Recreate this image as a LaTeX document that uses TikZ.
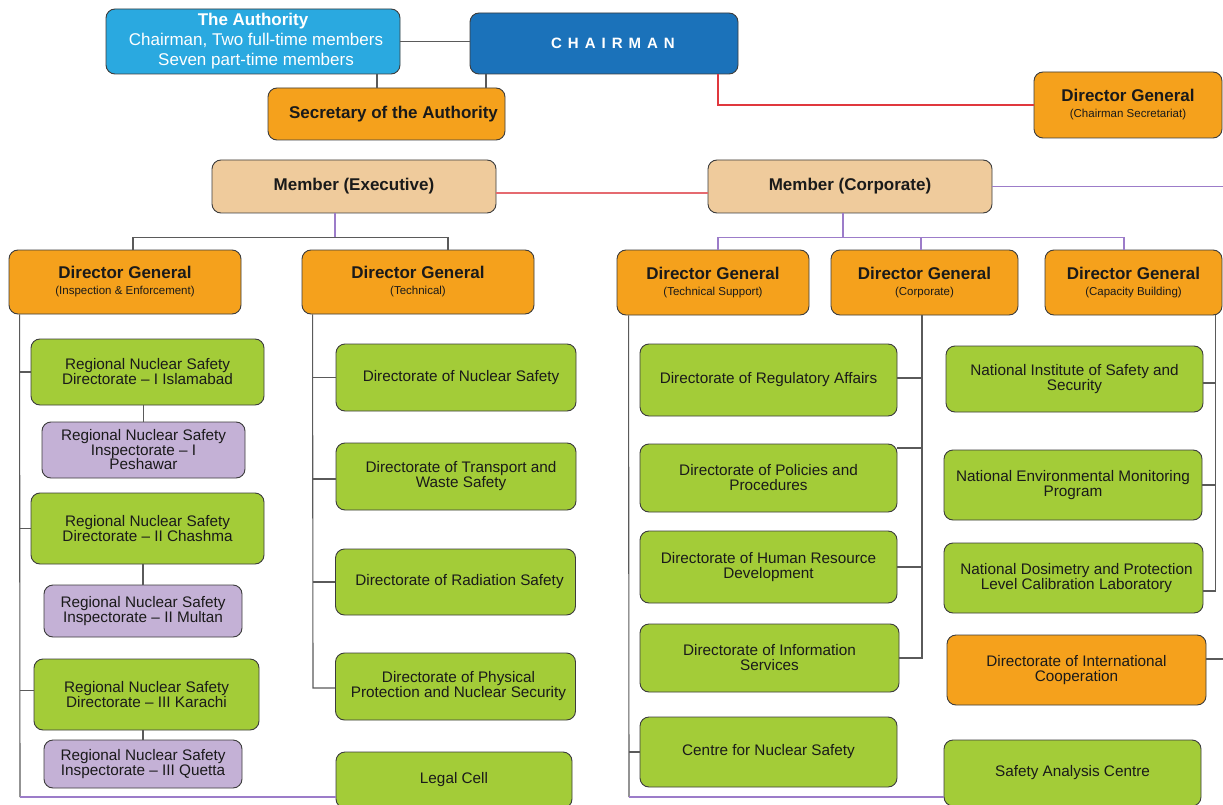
\documentclass[tikz,border=0pt]{standalone}
\usepackage{fontspec}
\setmainfont{Liberation Sans}
\usetikzlibrary{calc}
\newcommand\myfs[2]{\fontsize{#1}{#2}\selectfont}
\definecolor{authblue}{HTML}{2AA9E0}
\definecolor{chairblue}{HTML}{1B72BA}
\definecolor{org}{HTML}{F5A11C}
\definecolor{tan}{HTML}{EFCB9C}
\definecolor{grn}{HTML}{A3CC38}
\definecolor{lil}{HTML}{C4B1D6}
\definecolor{bordc}{HTML}{3C3C3C}
\definecolor{cgray}{HTML}{5A5A5A}
\definecolor{purp}{HTML}{9C7CC9}
\definecolor{redl}{HTML}{E0383E}
\definecolor{redm}{HTML}{E56A70}
\definecolor{txt}{HTML}{1A1A1A}
\tikzset{
 base/.style={draw=bordc, line width=0.9pt, rounded corners=9pt, align=center, inner sep=1pt, text=txt},
 gbox/.style={base, fill=grn, font=\myfs{15.3}{15}},
 lbox/.style={base, fill=lil, font=\myfs{15.3}{14.5}},
 obox/.style={base, fill=org, font=\myfs{17}{18}},
 tbox/.style={base, fill=tan, font=\bfseries\myfs{17}{20}},
 conn/.style={draw=cgray, line width=1.1pt},
 pline/.style={draw=purp, line width=1.1pt},
 rline/.style={draw=redl, line width=1.1pt},
 rline2/.style={draw=redm, line width=1.1pt},
}
\newcommand\dgt[1]{\textbf{Director General}\\[-2pt]{\myfs{11.5}{12}#1}}
\begin{document}
\begin{tikzpicture}[x=1pt,y=-1pt]
\path[use as bounding box, fill=white] (0,0) rectangle (1223,805);

% top level
\node[base, fill=authblue, text=white, font=\myfs{17}{20}, minimum width=294pt, minimum height=65pt] (auth) at (253,41.5)
  {\textbf{The Authority}\\\hspace*{6pt}Chairman, Two full-time members\\\hspace*{6pt}Seven part-time members};
\node[base, fill=chairblue, text=white, minimum width=268pt, minimum height=61pt] (chair) at (604,43.5)
  {\hspace*{18pt}\bfseries\myfs{15}{16}\addfontfeature{LetterSpace=40}CHAIRMAN};
\node[obox, font=\bfseries\myfs{17}{18}, minimum width=237pt, minimum height=52pt] (sec) at (386.5,114) {\hspace*{14pt}Secretary of the Authority};
\node[obox, minimum width=188pt, minimum height=66pt] (dgcs) at (1128,105) {\dgt{(Chairman Secretariat)}};

\node[tbox, minimum width=284pt, minimum height=53pt] (mexe) at (354,186.5) {Member (Executive)};
\node[tbox, minimum width=284pt, minimum height=53pt] (mcor) at (850,186.5) {Member (Corporate)};

% DGs
\node[obox, minimum width=232pt, minimum height=64pt] (dgie) at (125,282) {\dgt{(Inspection \& Enforcement)}};
\node[obox, minimum width=232pt, minimum height=64pt] (dgtech) at (418,282) {\dgt{(Technical)}};
\node[obox, minimum width=192pt, minimum height=65pt] (dgts) at (713,282.5) {\dgt{(Technical Support)}};
\node[obox, minimum width=187pt, minimum height=65pt] (dgcorp) at (924.5,282.5) {\dgt{(Corporate)}};
\node[obox, minimum width=177pt, minimum height=65pt] (dgcb) at (1133.5,282.5) {\dgt{(Capacity Building)}};

% I&E column
\node[gbox, minimum width=233pt, minimum height=66pt] (rn1) at (147.5,372) {Regional Nuclear Safety\\Directorate -- I Islamabad};
\node[lbox, minimum width=203pt, minimum height=56pt] (ri1) at (143.5,450) {Regional Nuclear Safety\\Inspectorate -- I\\Peshawar};
\node[gbox, minimum width=233pt, minimum height=71pt] (rn2) at (147.5,528.5) {Regional Nuclear Safety\\Directorate -- II Chashma};
\node[lbox, minimum width=198pt, minimum height=52pt] (ri2) at (143,611) {Regional Nuclear Safety\\Inspectorate -- II Multan};
\node[gbox, minimum width=225pt, minimum height=71pt] (rn3) at (146.5,694.5) {Regional Nuclear Safety\\Directorate -- III Karachi};
\node[lbox, minimum width=198pt, minimum height=48pt] (ri3) at (143,764) {Regional Nuclear Safety\\Inspectorate -- III Quetta};

% Technical column
\node[gbox, minimum width=240pt, minimum height=67pt] (tns) at (456,377.5) {\hspace*{10pt}Directorate of Nuclear Safety};
\node[gbox, minimum width=240pt, minimum height=67pt] (ttw) at (456,476.5) {\hspace*{10pt}Directorate of Transport and\\\hspace*{10pt}Waste Safety};
\node[gbox, minimum width=240pt, minimum height=66pt] (trs) at (455.5,582) {\hspace*{8pt}Directorate of Radiation Safety};
\node[gbox, minimum width=240pt, minimum height=67pt] (tpp) at (455.5,686.5) {\hspace*{6pt}Directorate of Physical\\\hspace*{6pt}Protection and Nuclear Security};
\node[gbox, minimum width=236pt, minimum height=56pt] (legal) at (454,780) {Legal Cell};

% Technical support column
\node[gbox, minimum width=257pt, minimum height=72pt] (reg) at (768.5,380) {Directorate of Regulatory Affairs};
\node[gbox, minimum width=257pt, minimum height=68pt] (pol) at (768.5,478) {Directorate of Policies and\\Procedures};
\node[gbox, minimum width=257pt, minimum height=72pt] (hr) at (768.5,567) {Directorate of Human Resource\\Development};
\node[gbox, minimum width=259pt, minimum height=68pt] (info) at (769.5,658) {Directorate of Information\\Services};
\node[gbox, minimum width=257pt, minimum height=70pt] (cns) at (768.5,752) {Centre for Nuclear Safety};

% Capacity building column
\node[gbox, minimum width=257pt, minimum height=66pt] (niss) at (1074.5,379) {National Institute of Safety and\\Security};
\node[gbox, minimum width=258pt, minimum height=70pt] (nemp) at (1073,485) {National Environmental Monitoring\\Program};
\node[gbox, minimum width=259pt, minimum height=70pt] (ndp) at (1073.5,578) {\hspace*{6pt}National Dosimetry and Protection\\\hspace*{6pt}Level Calibration Laboratory};
\node[obox, font=\myfs{15.3}{15}, minimum width=259pt, minimum height=70pt] (intl) at (1076.5,670) {Directorate of International\\Cooperation};
\node[gbox, minimum width=257pt, minimum height=66pt] (sac) at (1072.5,773) {Safety Analysis Centre};

% top connectors
\draw[conn] (auth.east) -- (auth.east -| chair.west);
\draw[conn] ([xshift=-9.5pt]sec.north) -- ([xshift=-9.5pt]sec.north |- auth.south);
\draw[conn] ([xshift=99.5pt]sec.north) -- ([xshift=99.5pt]sec.north |- chair.south);
\draw[rline] ([xshift=114pt]chair.south) |- (dgcs.west);
\draw[rline2] ([yshift=-6.5pt]mexe.east) -- ([yshift=-6.5pt]mexe.east -| mcor.west);
\coordinate (redge) at (1223,186.5);
\draw[pline] (mcor.east) -- (redge);

% executive tree
\draw[pline] ([xshift=-19pt]mexe.south) -- ++(0,25);
\draw[conn] ([xshift=8pt]dgie.north) -- ++(0,-12) -| ([xshift=30pt]dgtech.north);

% corporate tree
\draw[pline] ([xshift=-7pt]mcor.south) -- ++(0,25);
\draw[pline] ([xshift=5pt]dgts.north) -- ++(0,-12) -| ([xshift=-9.5pt]dgcb.north);
\draw[pline] ([xshift=-3.5pt]dgcorp.north) -- ++(0,-12);

% I&E branch
\coordinate (iebot) at (20,797);
\draw[conn] ([xshift=11pt]dgie.south west) -- (iebot);
\draw[pline] (iebot) -- (iebot -| legal.west);
\draw[conn] (rn1.west) -- (rn1.west -| iebot);
\draw[conn] (rn2.west) -- (rn2.west -| iebot);
\draw[conn] ([yshift=4pt]rn3.west) -- ([yshift=4pt]rn3.west -| iebot);
\draw[conn] (ri1.north) -- (ri1.north |- rn1.south);
\draw[conn] (ri2.north) -- (ri2.north |- rn2.south);
\draw[conn] (ri3.north) -- (ri3.north |- rn3.south);

% Technical branch
\coordinate (tbot) at (313,688);
\draw[conn] ([xshift=11pt]dgtech.south west) -- (tbot) -- (tbot -| tpp.west);
\draw[conn] (tns.west) -- (tns.west -| tbot);
\draw[conn] ([yshift=-2.5pt]ttw.west) -- ([yshift=-2.5pt]ttw.west -| tbot);
\draw[conn] (trs.west) -- (trs.west -| tbot);

% Technical support branch
\coordinate (tsbot) at (629,797);
\draw[conn] ([xshift=12pt]dgts.south west) -- (tsbot);
\draw[pline] (tsbot) -- (tsbot -| sac.west);
\draw[conn] (cns.west) -- (cns.west -| tsbot);

% Corporate branch
\coordinate (cv) at ([xshift=-2.5pt]dgcorp.south);
\draw[conn] (cv) |- (info.east);
\draw[conn] ([yshift=2pt]reg.east) -- ([yshift=2pt]reg.east -| cv);
\draw[conn] ([yshift=30pt]pol.east) -- ([yshift=30pt]pol.east -| cv);
\draw[conn] (hr.east) -- (hr.east -| cv);

% Capacity building branch
\coordinate (cbv) at ([xshift=-7pt]dgcb.south east);
\draw[conn] (cbv) |- ([yshift=-13pt]ndp.east);
\draw[conn] ([yshift=-4pt]niss.east) -- ([yshift=-4pt]niss.east -| cbv);
\draw[conn] (nemp.east) -- (nemp.east -| cbv);
\coordinate (iedge) at (1223,659);
\draw[conn] (iedge -| intl.east) -- (iedge);
\end{tikzpicture}
\end{document}
